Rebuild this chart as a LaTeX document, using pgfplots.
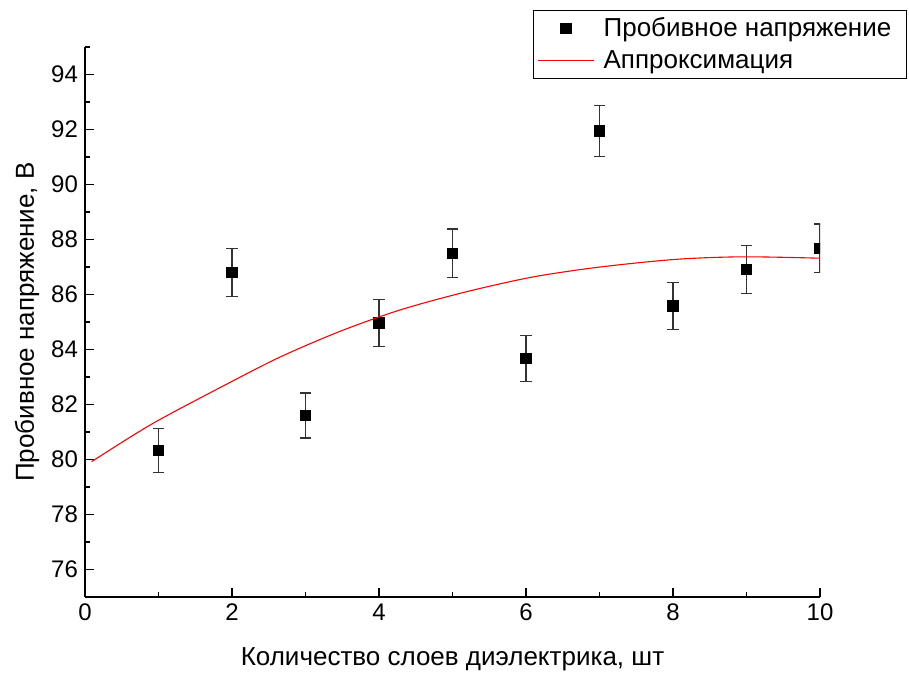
\documentclass[border=0pt]{standalone}
\usepackage{fontspec}
\setmainfont{Liberation Sans}
\usepackage{pgfplots}
\pgfplotsset{compat=1.18}
\pgfplotstableread{
x y ey
1 80.33 0.80
2 86.81 0.87
3 81.60 0.82
4 84.96 0.85
5 87.50 0.88
6 83.67 0.84
7 91.95 0.92
8 85.58 0.86
9 86.92 0.87
10 87.68 0.88
}\measured
\begin{document}
\begin{tikzpicture}
\begin{axis}[
  name=main,
  scale only axis,
  width=367.5pt, height=275pt,
  xmin=0, xmax=10, ymin=75, ymax=95,
  axis lines=left,
  axis line style={-, line width=0.7pt, black},
  xtick={0,2,...,10}, minor xtick={1,3,...,9},
  ytick={76,78,...,94}, minor ytick={75,77,...,95},
  tick align=inside,
  major tick length=4.5pt, minor tick length=2.5pt,
  tick style={black, line width=0.7pt},
  /pgf/number format/assume math mode=true,
  ticklabel style={font=\fontsize{12}{14}\selectfont},
  xlabel={Количество слоев диэлектрика, шт},
  ylabel={Пробивное напряжение, В},
  label style={font=\fontsize{13}{15}\selectfont},
  xlabel style={at={(axis description cs:0.5,-0.1127)}, anchor=center},
  ylabel style={at={(axis description cs:-0.0789,0.5)}, anchor=center},
  clip marker paths=true,
  legend image code/.code={\draw[mark repeat=2, mark phase=2, #1] plot coordinates {(0pt,0pt) (14pt,0pt) (28pt,0pt)};},
  legend style={at={(rel axis cs:1.1184,1.0673)}, anchor=north east,
    draw=black, fill=white,
    font=\fontsize{13}{15}\selectfont, legend cell align=left,
    inner xsep=2pt, inner ysep=1.5pt, row sep=1.5pt},
]
\addplot[only marks, mark=square*, mark size=2.6pt, black,
  error bars/.cd, y dir=both, y explicit,
  error bar style={line width=0.6pt, black!80},
  error mark options={rotate=90, mark size=2.8pt, line width=0.6pt, black!80}]
  table[x=x, y=y, y error=ey] {\measured};
\addlegendentry{\makebox[150pt][l]{\hspace*{2.5pt}Пробивное напряжение}}
\addplot[red, line width=0.55pt, smooth, mark=none] coordinates {
(0.09,79.92) (0.91,81.29) (1.90,82.70) (2.65,83.72) (3.47,84.66) (4.29,85.44)
(5.19,86.10) (6.10,86.64) (7.01,87.00) (8.05,87.28) (8.96,87.37) (10,87.32)
};
\addlegendentry{\makebox[150pt][l]{\hspace*{2.5pt}Аппроксимация}}
\end{axis}
\pgfresetboundingbox
\path[use as bounding box] ([xshift=-42.5pt, yshift=-38pt]main.south west) rectangle ([xshift=44.5pt, yshift=23.5pt]main.north east);
\end{tikzpicture}
\end{document}
